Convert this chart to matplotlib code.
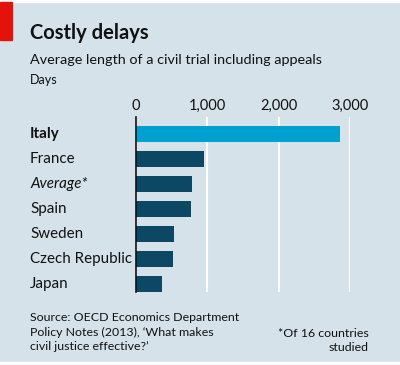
import matplotlib.pyplot as plt
from matplotlib.patches import Rectangle

countries = ['Italy', 'France', 'Average*', 'Spain', 'Sweden', 'Czech Republic', 'Japan']
days = [2866, 950, 788, 778, 527, 522, 368]
ticks = [0, 1000, 2000, 3000]
tick_labels = ['0', '1,000', '2,000', '3,000']

bg = '#d6e2e9'
plt.rcParams['font.family'] = ['Lato', 'DejaVu Sans']

fig = plt.figure(figsize=(4.0, 3.65), dpi=100)
fig.patch.set_facecolor(bg)

# white strips at top and bottom, red tag top left
fig.patches.append(Rectangle((0, 1 - 2 / 365), 1, 2 / 365, transform=fig.transFigure,
                             color='white', zorder=0))
fig.patches.append(Rectangle((0, 0), 1, 3 / 365, transform=fig.transFigure,
                             color='white', zorder=0))
fig.patches.append(Rectangle((0, 1 - 40 / 365), 12 / 400, 38 / 365, transform=fig.transFigure,
                             color='#e3120b', zorder=1))

ax = fig.add_axes([136 / 400, 1 - 292 / 365, (350 - 136) / 400, (292 - 117) / 365])
ax.set_facecolor(bg)

colors = ['#00a0d1'] + ['#0c4863'] * (len(countries) - 1)
ax.barh(range(len(countries)), days, height=0.64, color=colors, zorder=3)

ax.set_xlim(0, 3000)
ax.set_ylim(6.32, -0.68)
ax.set_xticks(ticks)
ax.set_xticklabels(tick_labels)
ax.xaxis.tick_top()
ax.tick_params(axis='x', length=0, pad=3, labelsize=10.5, colors='#111111')
ax.set_yticks([])
ax.grid(axis='x', color='white', linewidth=1.5, zorder=1)
for s in ['top', 'right', 'bottom']:
    ax.spines[s].set_visible(False)
ax.spines['left'].set_color('#111111')
ax.spines['left'].set_linewidth(1.2)
ax.spines['left'].set_zorder(4)

# category labels
for i, name in enumerate(countries):
    y_pix = 1 - (134 + 25 * i) / 365
    kw = {}
    if name == 'Italy':
        kw['fontweight'] = 'bold'
    if name == 'Average*':
        kw['fontstyle'] = 'italic'
    fig.text(30 / 400, y_pix, name, fontsize=10.9, va='center', ha='left', color='#111111', **kw)

fig.text(30 / 400, 1 - 33 / 365, 'Costly delays', fontsize=14.5, fontweight='bold',
         va='center', ha='left', color='#111111')
fig.text(30 / 400, 1 - 60 / 365, 'Average length of a civil trial including appeals', fontsize=10.4,
         va='center', ha='left', color='#111111')
fig.text(30 / 400, 1 - 80 / 365, 'Days', fontsize=9, va='center', ha='left', color='#111111')

fig.text(30 / 400, 1 - 332 / 365,
         'Source: OECD Economics Department\nPolicy Notes (2013), \u2018What makes\ncivil justice effective?\u2019',
         fontsize=8.9, va='center', ha='left', color='#111111', linespacing=1.35)
fig.text(369 / 400, 1 - 340.5 / 365, '*Of 16 countries\nstudied', fontsize=8.9, va='center',
         ha='right', multialignment='right', color='#111111', linespacing=1.35)

fig.savefig('out.png', dpi=100, facecolor=bg)
